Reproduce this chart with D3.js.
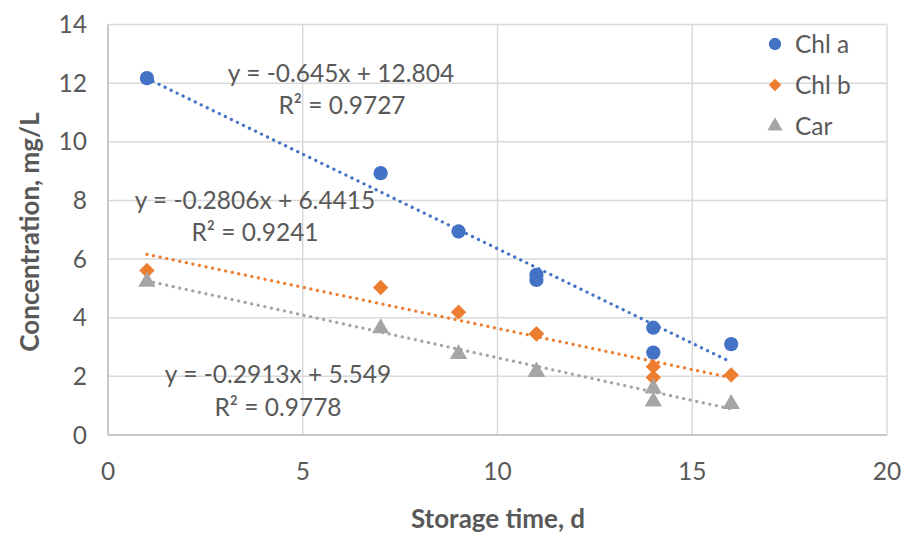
<!DOCTYPE html>
<html><head><meta charset="utf-8">
<script src="https://cdn.jsdelivr.net/npm/d3@7/dist/d3.min.js"></script>
<style>body{margin:0;background:#fff;} svg{display:block;}</style>
</head><body>
<svg id="c" width="905" height="533"></svg>
<script>
// ---- data ----
const seriesNames = ["Chl a", "Chl b", "Car"];
const days = [1, 7, 9, 11, 11, 14, 14, 16];
const chlA = [12.17, 8.93, 6.94, 5.46, 5.29, 3.66, 2.81, 3.10];
const chlB = [5.61, 5.03, 4.19, 3.45, 3.45, 2.33, 1.96, 2.05];
const car  = [5.23, 3.64, 2.76, 2.16, 2.16, 1.59, 1.14, 1.06];
const slopes = [-0.645, -0.2806, -0.2913];
const intercepts = [12.804, 6.4415, 5.549];
const eqLabels = ["y = -0.645x + 12.804", "y = -0.2806x + 6.4415", "y = -0.2913x + 5.549"];
const r2Labels = ["R² = 0.9727", "R² = 0.9241", "R² = 0.9778"];
const xTicks = [0, 5, 10, 15, 20];
const yTicks = [0, 2, 4, 6, 8, 10, 12, 14];
const colors = ["#4472C4", "#ED7D31", "#A5A5A5"];

const svg = d3.select("#c");
const x = d3.scaleLinear().domain([0, 20]).range([108, 887]);
const y = d3.scaleLinear().domain([0, 14]).range([435, 24.5]);
const font = "Lato, 'Open Sans', sans-serif";
const txt = "#595959";
const fs = 24.5;

// gridlines
svg.append("g").selectAll("line.h").data(yTicks).join("line")
  .attr("x1", x(0)).attr("x2", x(20)).attr("y1", d => y(d)).attr("y2", d => y(d))
  .attr("stroke", "#d9d9d9").attr("stroke-width", 1.5);
svg.append("g").selectAll("line.v").data(xTicks).join("line")
  .attr("x1", d => x(d)).attr("x2", d => x(d)).attr("y1", y(0)).attr("y2", y(14))
  .attr("stroke", "#d9d9d9").attr("stroke-width", 1.5);
// axis lines
svg.append("line").attr("x1", x(0)).attr("x2", x(20)).attr("y1", y(0)).attr("y2", y(0)).attr("stroke", "#bfbfbf").attr("stroke-width", 1.5);
svg.append("line").attr("x1", x(0)).attr("x2", x(0)).attr("y1", y(0)).attr("y2", y(14)).attr("stroke", "#bfbfbf").attr("stroke-width", 1.5);

// tick labels
svg.append("g").selectAll("text").data(yTicks).join("text")
  .attr("x", 87).attr("y", d => y(d)).attr("dy", "0.35em").attr("text-anchor", "end")
  .attr("font-family", font).attr("font-size", fs).attr("fill", txt).text(d => d);
svg.append("g").selectAll("text").data(xTicks).join("text")
  .attr("x", d => x(d)).attr("y", 471).attr("dy", "0.35em").attr("text-anchor", "middle")
  .attr("font-family", font).attr("font-size", fs).attr("fill", txt).text(d => d);

// axis titles
svg.append("text").attr("x", 498).attr("y", 519).attr("dy", "0.35em").attr("text-anchor", "middle")
  .attr("font-family", font).attr("font-weight", "bold").attr("font-size", 26).attr("fill", txt)
  .text("Storage time, d");
svg.append("text").attr("transform", "translate(30,232) rotate(-90)").attr("dy", "0.35em").attr("text-anchor", "middle")
  .attr("font-family", font).attr("font-weight", "bold").attr("font-size", 26).attr("fill", txt)
  .text("Concentration, mg/L");

// trendlines
const allSeries = [chlA, chlB, car];
const xmin = d3.min(days), xmax = d3.max(days);
slopes.forEach((m, i) => {
  svg.append("line")
    .attr("x1", x(xmin)).attr("y1", y(m * xmin + intercepts[i]))
    .attr("x2", x(xmax)).attr("y2", y(m * xmax + intercepts[i]))
    .attr("stroke", colors[i]).attr("stroke-width", 3.2)
    .attr("stroke-linecap", "round").attr("stroke-dasharray", "0.1,6.6");
});

// markers
const symbols = [d3.symbolCircle, d3.symbolDiamond2, d3.symbolTriangle];
const sizes = [160, 150, 130];
const symGen = (i, s) => d3.symbol().type(symbols[i]).size(s)();
allSeries.forEach((vals, i) => {
  svg.append("g").selectAll("path").data(vals).join("path")
    .attr("d", symGen(i, sizes[i]))
    .attr("transform", (d, j) => `translate(${x(days[j])},${y(d)})`)
    .attr("fill", colors[i]);
});

// equation labels
const eqPos = [[341, 73, 342, 105], [255, 200, 255, 232], [278, 374, 278, 407]];
eqLabels.forEach((t, i) => {
  svg.append("text").attr("x", eqPos[i][0]).attr("y", eqPos[i][1]).attr("dy", "0.35em")
    .attr("text-anchor", "middle").attr("font-family", font).attr("font-size", fs).attr("fill", txt).text(t);
  svg.append("text").attr("x", eqPos[i][2]).attr("y", eqPos[i][3]).attr("dy", "0.35em")
    .attr("text-anchor", "middle").attr("font-family", font).attr("font-size", fs).attr("fill", txt).text(r2Labels[i]);
});

// legend
const lg = svg.append("g");
seriesNames.forEach((n, i) => {
  const ly = 44 + i * 41;
  lg.append("path").attr("d", symGen(i, [120, 100, 100][i])).attr("transform", `translate(775,${ly})`).attr("fill", colors[i]);
  lg.append("text").attr("x", 795).attr("y", ly).attr("dy", "0.35em")
    .attr("font-family", font).attr("font-size", fs).attr("fill", txt).text(n);
});
</script>
</body></html>
